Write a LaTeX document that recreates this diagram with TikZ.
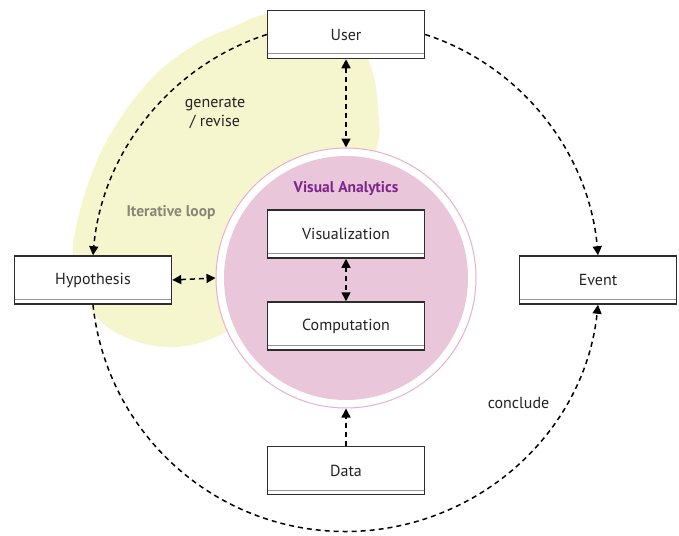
\documentclass[tikz,border=0pt]{standalone}
\usepackage{fontspec}
\setmainfont{PT Sans}
\usetikzlibrary{arrows.meta,calc}
\definecolor{boxline}{RGB}{45,45,45}
\definecolor{innergray}{RGB}{150,150,150}
\definecolor{txt}{RGB}{35,35,35}
\definecolor{blobyellow}{RGB}{245,246,206}
\definecolor{vapink}{RGB}{234,198,218}
\definecolor{ringpink}{RGB}{228,178,206}
\definecolor{vapurple}{RGB}{125,38,138}
\definecolor{loopgray}{RGB}{135,135,120}
\tikzset{
  box/.style={rectangle, draw=boxline, line width=1.5pt, fill=white,
    minimum width=157pt, minimum height=48pt, inner sep=0pt, text=txt,
    font=\fontsize{16}{19}\selectfont,
    path picture={\draw[innergray, line width=1pt]
      ($(path picture bounding box.south west)+(0,4.5)$) --
      ($(path picture bounding box.south east)+(0,4.5)$);}},
  lbl/.style={text=txt, font=\fontsize{16}{20}\selectfont, align=center, inner sep=0pt},
  conn/.style={draw=black, line width=1.5pt, dash pattern=on 5pt off 4pt},
  tip/.tip={Triangle[length=9pt,width=9pt]}
}
\begin{document}
\begin{tikzpicture}[x=1pt,y=1pt]
\useasboundingbox (0,0) rectangle (679,-535);
\fill[white] (0,0) rectangle (679,-535);
% iterative loop blob
\fill[blobyellow] plot[smooth cycle, tension=0.6] coordinates {
  (73,-255) (76,-227) (86,-190) (102,-150) (126,-110) (158,-72) (198,-43)
  (233,-27) (267,-14) (320,-12) (355,-35) (372,-70) (378,-110) (376,-150)
  (340,-230) (275,-300) (222,-334) (185,-346) (150,-345) (115,-332)
  (93,-312) (80,-285)};
% visual analytics circle
\node[circle, draw=ringpink, line width=1pt, fill=white, minimum size=260pt, inner sep=0pt] (va) at (346,-278) {};
\node[circle, fill=vapink, minimum size=244pt, inner sep=0pt] (vain) at (346,-278) {};
\node[text=vapurple, font=\bfseries\fontsize{15.5}{18}\selectfont, inner sep=0pt] (valbl) at (346,-189) {Visual Analytics};
% boxes
\node[box] (user) at (346,-34.5) {User};
\node[box] (vis) at (346,-234) {Visualization};
\node[box] (comp) at (346,-326) {Computation};
\node[box] (data) at (346,-470.5) {Data};
\node[box] (hyp) at (93,-280) {Hypothesis};
\node[box] (event) at (598,-280) {Event};
\coordinate (bot) at (345.5,-531.5);
% labels
\node[lbl] (gen) at (215,-113) {generate\\[-1pt]/ revise};
\node[text=loopgray, font=\bfseries\fontsize{15.5}{18}\selectfont, inner sep=0pt] (loop) at (171,-213) {Iterative loop};
\node[lbl] (concl) at (518.5,-403) {conclude};
% connectors
\draw[conn, tip-tip] (user.south) -- (va.north);
\draw[conn, tip-tip] (vis.south) -- (comp.north);
\draw[conn, tip-tip] (hyp.east) -- (va.west);
\draw[conn, -tip] (data.north) -- (va.south);
\draw[conn, -tip] (user.west) to[out=198, in=85, looseness=0.93] (hyp.north);
\draw[conn, -tip] (user.east) to[out=-18, in=95, looseness=0.93] (event.north);
\draw[conn, -tip] (hyp.south) to[out=-84, in=180, looseness=0.98] (bot)
  to[out=0, in=-96, looseness=0.98] (event.south);
\end{tikzpicture}
\end{document}
